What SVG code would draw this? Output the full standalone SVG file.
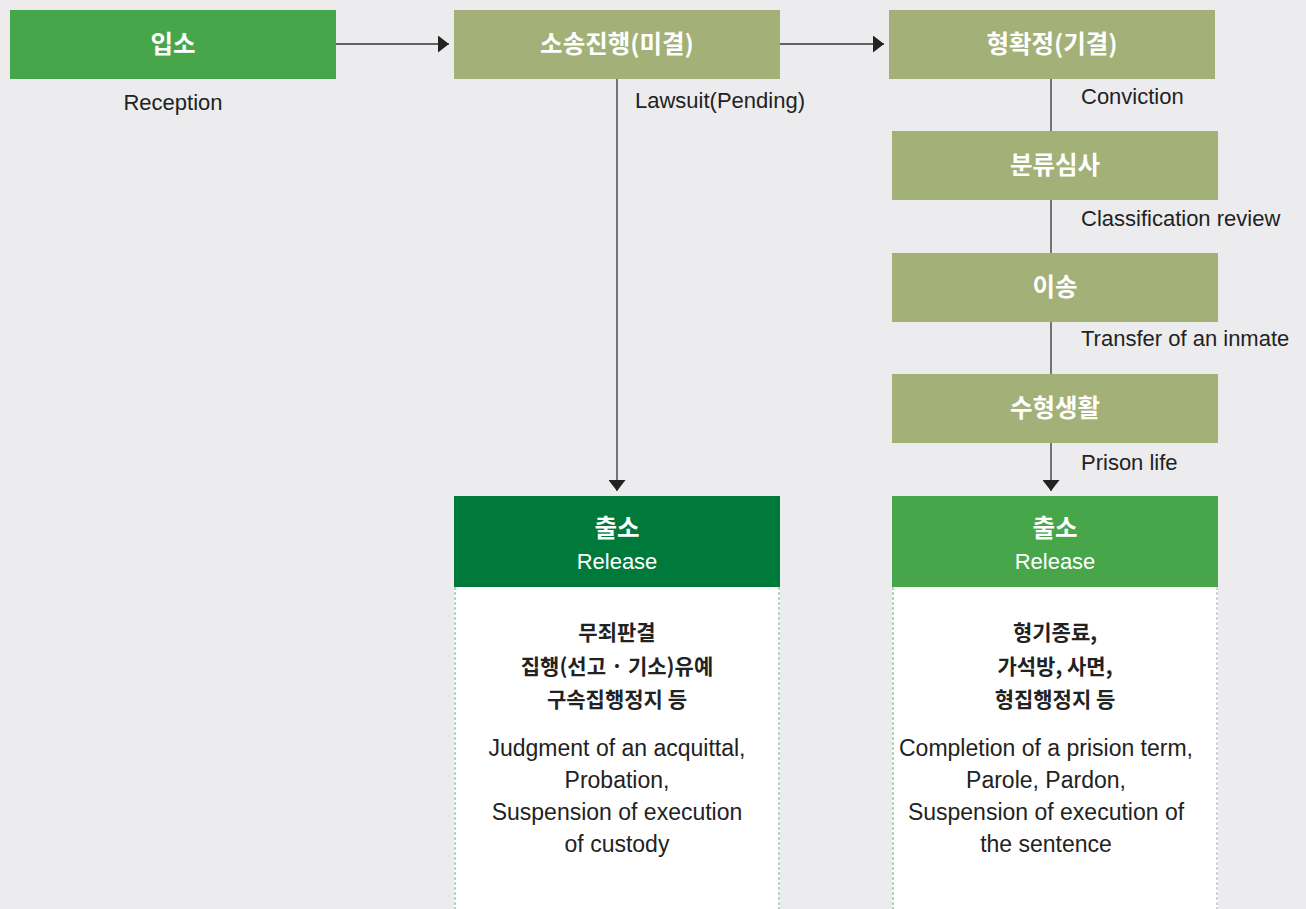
<svg xmlns="http://www.w3.org/2000/svg" width="1306" height="909" viewBox="0 0 1306 909">
<style>
.bg{fill:#ececee}
.g{fill:#47a64a}
.o{fill:#a3b077}
.dg{fill:#007a3b}
.t{font-family:"Noto Sans CJK KR","Liberation Sans",sans-serif;font-weight:bold;font-size:24.5px;fill:#fff;text-anchor:middle}
.rel{font-family:"Liberation Sans","Noto Sans CJK KR",sans-serif;font-size:22px;fill:#fff;text-anchor:middle}
.lb{font-family:"Liberation Sans",sans-serif;font-size:22px;fill:#222}
.kd{font-family:"Noto Sans CJK KR",sans-serif;font-weight:bold;font-size:21px;fill:#222;text-anchor:middle}
.ed{font-family:"Liberation Sans",sans-serif;font-size:23px;fill:#222;text-anchor:middle}
.ln{stroke:#333;stroke-width:1.3;fill:none}
.dash{stroke-width:1;stroke-dasharray:3 2;fill:none}
</style>
<defs>
<marker id="ah" viewBox="0 0 10 10" refX="10" refY="5" markerWidth="11" markerHeight="17" markerUnits="userSpaceOnUse" orient="auto" preserveAspectRatio="none">
<path d="M0,0 L10,5 L0,10 Z" fill="#222"/>
</marker>
</defs>
<rect class="bg" x="0" y="0" width="1306" height="909"/>
<g id="connectors">
<line class="ln" x1="336" y1="44" x2="449" y2="44" marker-end="url(#ah)"/>
<line class="ln" x1="780" y1="44" x2="884" y2="44" marker-end="url(#ah)"/>
<line class="ln" x1="617" y1="79" x2="617" y2="491" marker-end="url(#ah)"/>
<line class="ln" x1="1051" y1="79" x2="1051" y2="491" marker-end="url(#ah)"/>
</g>
<g id="n-reception">
<rect class="g" x="10" y="10" width="326" height="69"/>
<text class="t" x="173" y="53">입소</text>
<text class="lb" x="173" y="110" text-anchor="middle">Reception</text>
</g>
<g id="n-lawsuit">
<rect class="o" x="454" y="10" width="326" height="69"/>
<text class="t" x="617" y="53">소송진행(미결)</text>
<text class="lb" x="635" y="108">Lawsuit(Pending)</text>
</g>
<g id="n-conviction">
<rect class="o" x="889" y="10" width="326" height="69"/>
<text class="t" x="1052" y="53">형확정(기결)</text>
<text class="lb" x="1081" y="104">Conviction</text>
</g>
<g id="n-classification">
<rect class="o" x="892" y="131" width="326" height="69"/>
<text class="t" x="1055" y="174">분류심사</text>
<text class="lb" x="1081" y="226">Classification review</text>
</g>
<g id="n-transfer">
<rect class="o" x="892" y="253" width="326" height="69"/>
<text class="t" x="1055" y="296">이송</text>
<text class="lb" x="1081" y="346">Transfer of an inmate</text>
</g>
<g id="n-prisonlife">
<rect class="o" x="892" y="374" width="326" height="69"/>
<text class="t" x="1055" y="417">수형생활</text>
<text class="lb" x="1081" y="470">Prison life</text>
</g>
<g id="n-release-left">
<rect fill="#fff" x="454" y="587" width="326" height="330"/>
<line class="dash" stroke="#5cb083" x1="455" y1="587" x2="455" y2="909"/>
<line class="dash" stroke="#5cb083" x1="779" y1="587" x2="779" y2="909"/>
<rect class="dg" x="454" y="496" width="326" height="91"/>
<text class="t" x="617" y="537">출소</text>
<text class="rel" x="617" y="569">Release</text>
<text class="kd" x="617" y="640">무죄판결</text>
<text class="kd" x="617" y="674">집행(선고 · 기소)유예</text>
<text class="kd" x="617" y="707">구속집행정지 등</text>
<text class="ed" x="617" y="756">Judgment of an acquittal,</text>
<text class="ed" x="617" y="788">Probation,</text>
<text class="ed" x="617" y="820">Suspension of execution</text>
<text class="ed" x="617" y="852">of custody</text>
</g>
<g id="n-release-right">
<rect fill="#fff" x="892" y="587" width="326" height="330"/>
<line class="dash" stroke="#5cb06a" x1="893" y1="587" x2="893" y2="909"/>
<line class="dash" stroke="#aaa" x1="1217" y1="587" x2="1217" y2="909"/>
<rect class="g" x="892" y="496" width="326" height="91"/>
<text class="t" x="1055" y="537">출소</text>
<text class="rel" x="1055" y="569">Release</text>
<text class="kd" x="1055" y="640">형기종료,</text>
<text class="kd" x="1055" y="674">가석방, 사면,</text>
<text class="kd" x="1055" y="707">형집행정지 등</text>
<text class="ed" x="1046" y="756">Completion of a prision term,</text>
<text class="ed" x="1046" y="788">Parole, Pardon,</text>
<text class="ed" x="1046" y="820">Suspension of execution of</text>
<text class="ed" x="1046" y="852">the sentence</text>
</g>
</svg>
